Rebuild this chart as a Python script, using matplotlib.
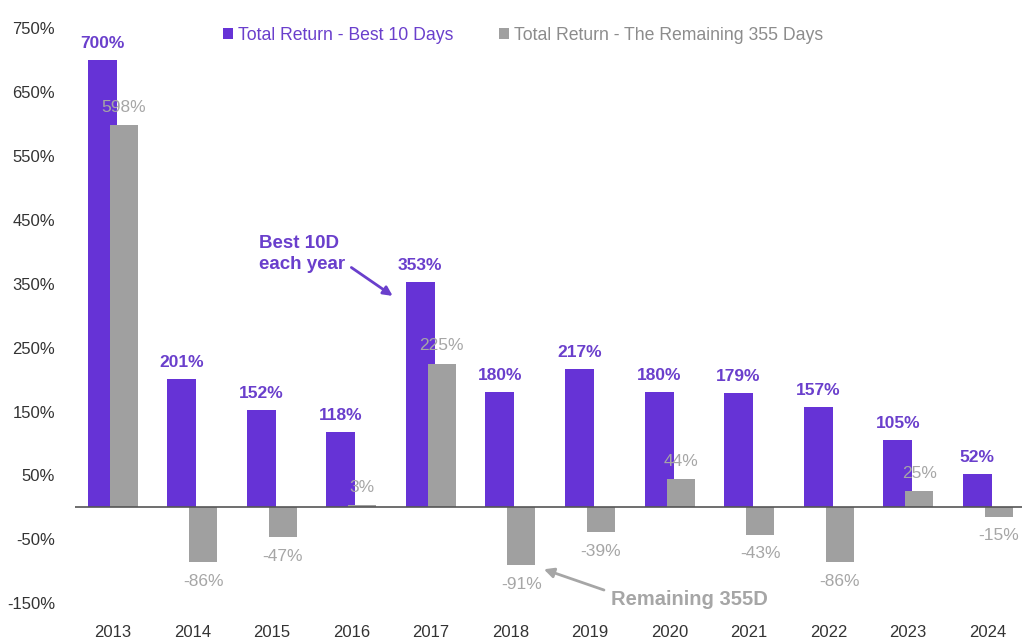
import matplotlib.pyplot as plt
import numpy as np

plt.rcParams['font.family'] = ['Liberation Sans', 'DejaVu Sans']

years = ['2013', '2014', '2015', '2016', '2017', '2018',
         '2019', '2020', '2021', '2022', '2023', '2024']
best10 = [700, 201, 152, 118, 353, 180, 217, 180, 179, 157, 105, 52]
remaining = [598, -86, -47, 3, 225, -91, -39, 44, -43, -86, 25, -15]
yticks = [-150, -50, 50, 150, 250, 350, 450, 550, 650, 750]

purple = '#6633d6'
gray = '#a0a0a0'
purple_txt = '#6a3fcc'
gray_txt = '#a6a6a6'

fig = plt.figure(figsize=(10.22, 6.43), dpi=100)
ax = fig.add_axes([0.073, 0.062, 0.927, 0.894])

x = np.arange(len(years))
p_off, p_w = -0.132, 0.365
g_off, g_w = 0.138, 0.352
# grey bars sit slightly over the purple ones
ax.bar(x + p_off, best10, p_w, color=purple, zorder=2,
       label='Total Return - Best 10 Days')
ax.bar(x + g_off, remaining, g_w, color=gray, zorder=3,
       label='Total Return - The Remaining 355 Days')

for xi, v in zip(x, best10):
    ax.text(xi + p_off, v + 14, f'{v}%', ha='center', va='bottom',
            fontsize=12.5, fontweight='bold', color=purple_txt, zorder=4)
for xi, v in zip(x, remaining):
    if v >= 0:
        ax.text(xi + g_off, v + 16, f'{v}%', ha='center', va='bottom',
                fontsize=12.5, color=gray_txt, zorder=4)
    else:
        ax.text(xi + g_off, v - 18, f'{v}%', ha='center', va='top',
                fontsize=12.5, color=gray_txt, zorder=4)

ax.axhline(0, color='#555555', lw=1.2, zorder=4)

ax.set_xlim(-0.478, 11.43)
ax.set_ylim(-150, 750)
ax.set_xticks(x)
ax.set_xticklabels(years)
ax.set_yticks(yticks)
ax.set_yticklabels([f'{t}%' for t in yticks])
ax.tick_params(axis='both', length=0, labelsize=12, colors='#333333')
ax.tick_params(axis='x', pad=16)
ax.tick_params(axis='y', pad=14)
for s in ax.spines.values():
    s.set_visible(False)

# annotations
ax.annotate('Best 10D\neach year', xy=(3.52, 331), xytext=(1.84, 397),
            ha='left', va='center', fontsize=13.5, fontweight='bold',
            color=purple_txt, linespacing=1.3,
            arrowprops=dict(arrowstyle='-|>', color=purple_txt, lw=2,
                            shrinkA=3, shrinkB=0, relpos=(1.0, 0.25)))
ax.annotate('Remaining 355D', xy=(5.42, -97), xytext=(6.26, -145),
            ha='left', va='center', fontsize=14.5, fontweight='bold',
            color=gray_txt,
            arrowprops=dict(arrowstyle='-|>', color=gray_txt, lw=2,
                            shrinkA=3, shrinkB=0, relpos=(0.0, 0.9)))

leg = ax.legend(loc='center', bbox_to_anchor=(0.473, 0.988), ncol=2,
                frameon=False, fontsize=12.7, handlelength=0.6,
                handleheight=0.6, handletextpad=0.25, columnspacing=2.6)
for t, c in zip(leg.get_texts(), [purple_txt, '#8c8c8c']):
    t.set_color(c)

fig.savefig('out.png', dpi=100)
